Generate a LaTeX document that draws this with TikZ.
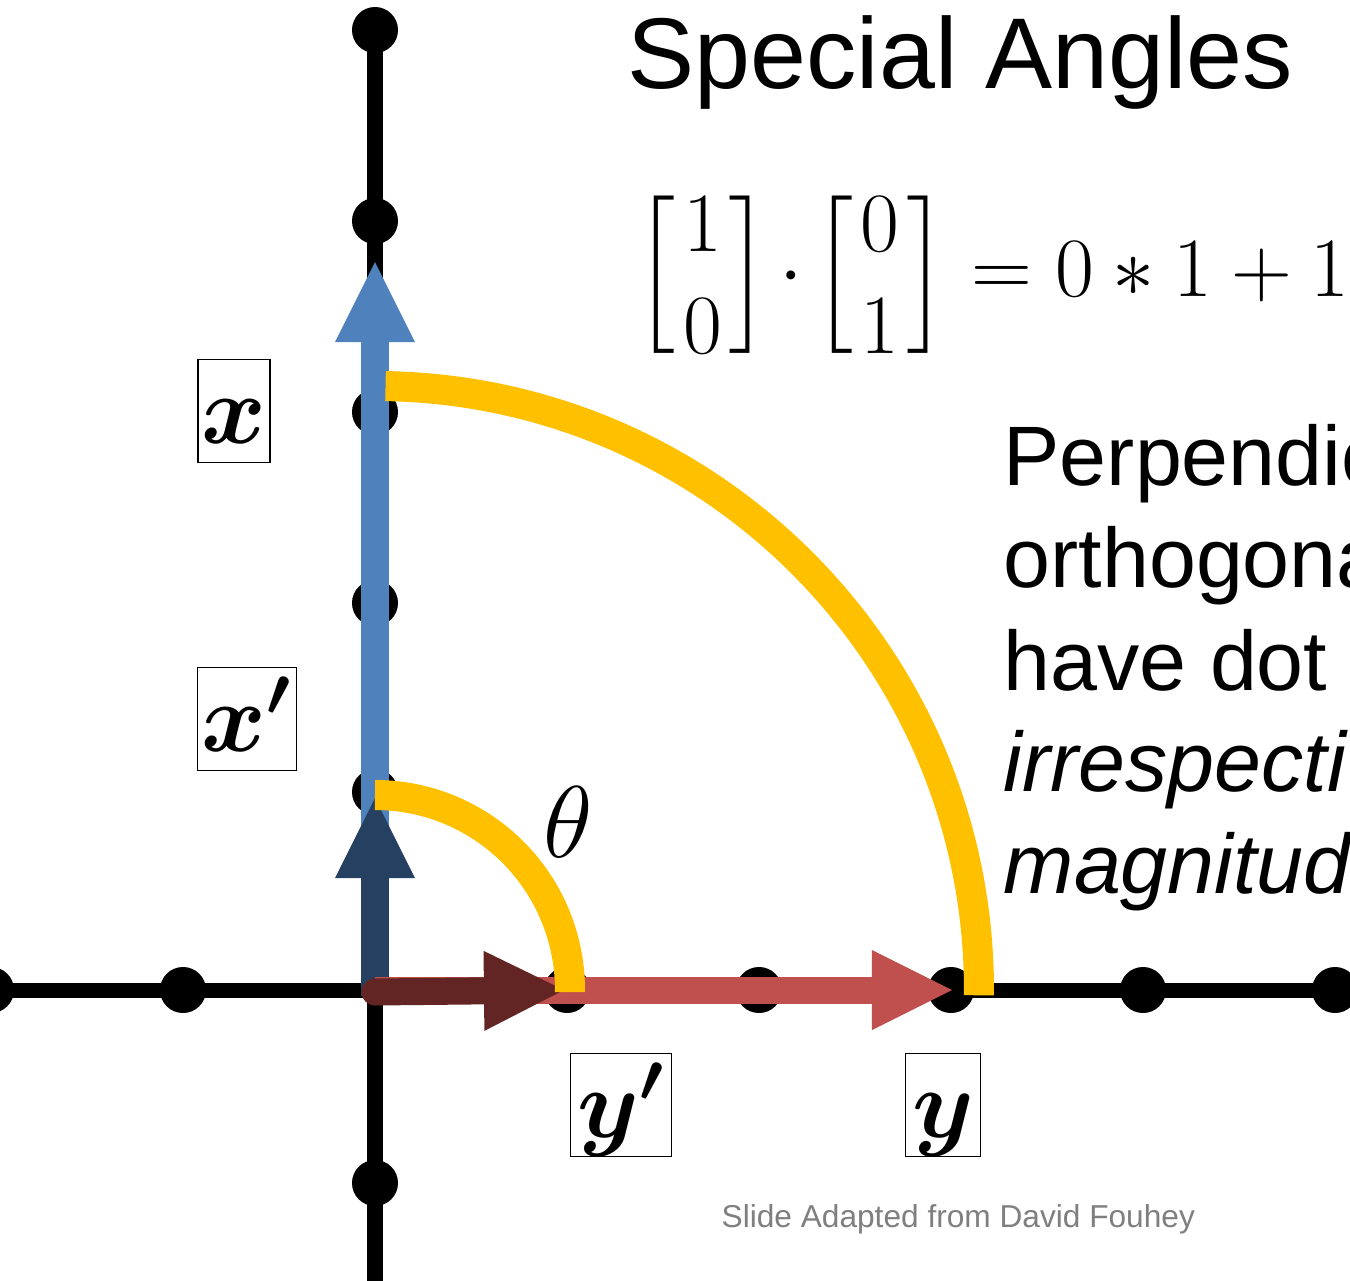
\documentclass[tikz,border=0pt]{standalone}
\usepackage{fix-cm}
\usepackage{amsmath}
\usepackage{fontspec}
\newfontfamily\arial{Liberation Sans}
\usetikzlibrary{arrows.meta}
\definecolor{vblue}{HTML}{4F81BD}
\definecolor{vdblue}{HTML}{254061}
\definecolor{vred}{HTML}{C0504D}
\definecolor{vdred}{HTML}{632523}
\definecolor{angyellow}{HTML}{FFC000}
\definecolor{footgray}{HTML}{7F7F7F}
\newcommand\myvec[2]{\left[\mkern1.5mu\vcenter{\baselineskip=29pt\lineskiplimit=-100pt\hbox{$#1$}\hbox{$#2$}}\mkern1.5mu\right]}
\begin{document}
\begin{tikzpicture}[x=0.01cm,y=-0.01cm,
  axisline/.style={line width=0.15cm},
  dotnode/.style={circle, fill=black, inner sep=0, minimum size=0.46cm},
  vec/.style={line width=0.27cm, -{Triangle[length=0.8cm,width=0.8cm,line width=0pt]}},
  angarc/.style={line width=0.30cm, draw=angyellow},
  lab/.style={draw, line width=0.5pt, inner sep=0, font=\fontsize{28}{34}\selectfont, text height=0.84cm, text depth=0.19cm},
  bodytext/.style={anchor=base west, inner sep=0, font=\arial\fontsize{24}{29}\selectfont}
]
\clip (0,0) rectangle (1350,1281);
\fill[white] (0,0) rectangle (1350,1281);
% axes
\coordinate (O) at (375,990);
\coordinate (Htop) at (375,30);
\coordinate (Hbot) at (375,1281);
\coordinate (Lft) at (0,990);
\coordinate (Rgt) at (1350,990);
\draw[axisline] (Lft) -- (Rgt);
\draw[axisline] (Htop) -- (Hbot);
% dots
\foreach \n/\x in {a/-9,b/183,d/567,e/759,f/951,g/1143,h/1335}
  \node[dotnode] (h\n) at (\x,990) {};
\foreach \n/\y in {a/30,b/221,c/412,d/603,e/792,f/1183}
  \node[dotnode] (v\n) at (375,\y) {};
% vectors
\coordinate (X) at (375,262);
\coordinate (Xp) at (375,798);
\coordinate (Y) at (952,990);
\coordinate (Yp) at (564,990);
\draw[vec, draw=vblue] (O) -- (X);
\draw[vec, draw=vdblue] (375,996) -- (Xp);
\draw[vec, draw=vred] (O) -- (Y);
\draw[vec, draw=vdred, line cap=round] (375,992) -- (Yp);
% arcs
\draw[angarc] (O) ++(0,-195) arc[start angle=-90, end angle=0.6, radius=195];
\draw[angarc] (O) ++(-89:604) arc[start angle=-89, end angle=0.5, radius=604];
% labels
\node[lab, minimum width=0.72cm] (lx) at (234,411) {$\boldsymbol{x}$};
\node[lab, minimum width=0.99cm] (lxp) at (247,719) {$\boldsymbol{x'}$};
\node[lab, minimum width=1.01cm] (lyp) at (621,1105) {$\boldsymbol{y'}$};
\node[lab, minimum width=0.75cm] (ly) at (943,1105) {$\boldsymbol{y}$};
\node[font=\fontsize{29}{35}\selectfont, inner sep=0] (th) at (568,822) {$\theta$};
% texts
\node[anchor=base west, inner sep=0, font=\arial\fontsize{28.6}{34}\selectfont] (title) at (627,88) {Special Angles};
\node[anchor=west, inner sep=0, font=\fontsize{24}{29}\selectfont] (eq) at (634,275) {$\myvec10\mskip-2mu\cdot\mskip-2mu\myvec01=0*1+1*0$};
\node[bodytext] (t1) at (1003,485) {Perpendic};
\node[bodytext] (t2) at (1003,587) {orthogona};
\node[bodytext] (t3) at (1003,690) {have dot};
\node[bodytext] (t4) at (1003,791) {\itshape irrespecti};
\node[bodytext] (t5) at (1003,893) {\itshape magnitud};
\node[anchor=base west, inner sep=0, font=\arial\fontsize{9}{11}\selectfont, text=footgray] (foot) at (721,1227) {Slide Adapted from David Fouhey};
\end{tikzpicture}
\end{document}
